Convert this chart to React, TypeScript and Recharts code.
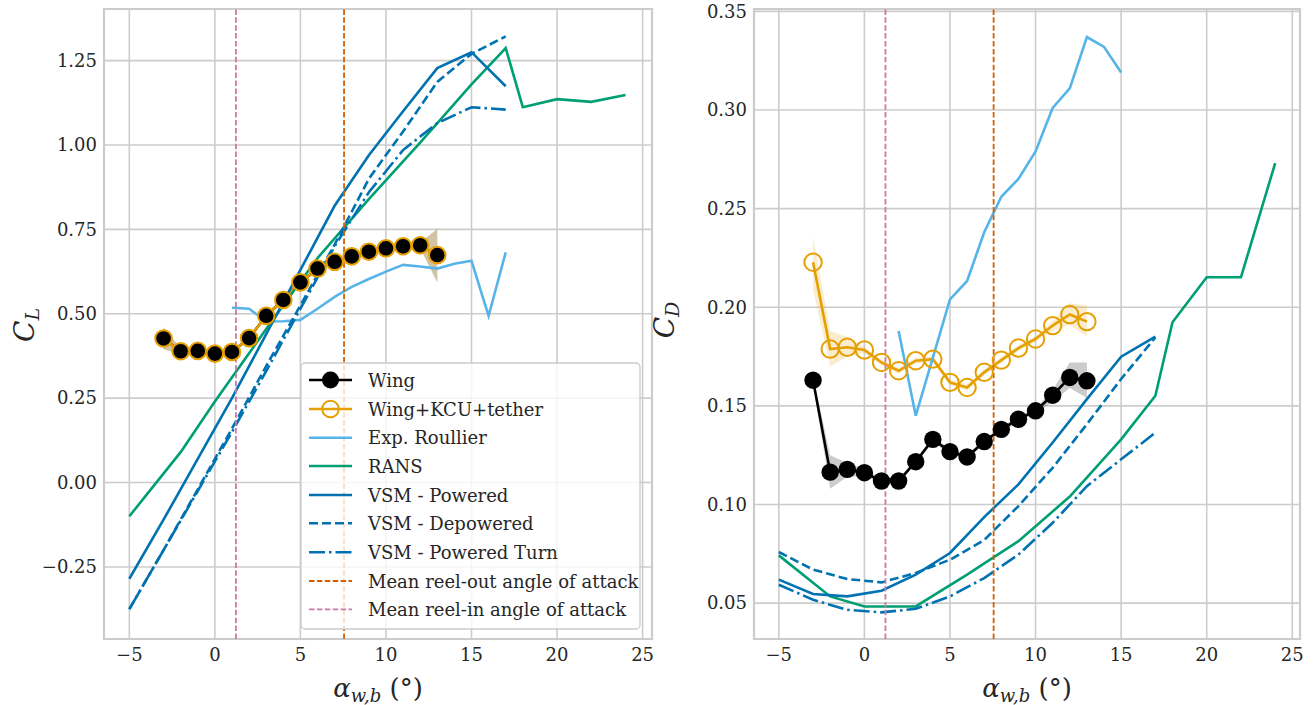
import React from "react";
import {
  ComposedChart,
  Line,
  Area,
  XAxis,
  YAxis,
  CartesianGrid,
  ReferenceLine,
  ReferenceArea,
} from "recharts";

// flight-test points (wing and wing+KCU+tether)
const alphaExp = [-3, -2, -1, 0, 1, 2, 3, 4, 5, 6, 7, 8, 9, 10, 11, 12, 13];
const clWing = [0.427, 0.389, 0.39, 0.382, 0.387, 0.428, 0.494, 0.541, 0.593, 0.634, 0.654, 0.67, 0.684, 0.694, 0.7, 0.703, 0.674];
const clWingKcu = [0.427, 0.389, 0.39, 0.382, 0.387, 0.428, 0.494, 0.541, 0.593, 0.634, 0.654, 0.67, 0.684, 0.694, 0.7, 0.703, 0.674];
const clBandLo = [0.395, 0.381, 0.385, 0.377, 0.382, 0.423, 0.488, 0.535, 0.587, 0.628, 0.648, 0.664, 0.678, 0.688, 0.694, 0.695, 0.593];
const clBandHi = [0.46, 0.397, 0.395, 0.387, 0.392, 0.433, 0.5, 0.547, 0.599, 0.64, 0.66, 0.676, 0.69, 0.7, 0.706, 0.711, 0.751];

const cdWing = [0.163, 0.1164, 0.1178, 0.1161, 0.1119, 0.1119, 0.1217, 0.133, 0.1268, 0.1241, 0.1319, 0.1381, 0.1432, 0.1475, 0.1554, 0.1644, 0.1627];
const cdWingLo = [0.161, 0.108, 0.114, 0.1145, 0.1105, 0.1105, 0.1205, 0.1318, 0.1255, 0.1228, 0.1306, 0.1368, 0.1419, 0.1462, 0.152, 0.159, 0.154];
const cdWingHi = [0.165, 0.125, 0.121, 0.1177, 0.1133, 0.1133, 0.1229, 0.1342, 0.1281, 0.1254, 0.1332, 0.1394, 0.1445, 0.1488, 0.158, 0.172, 0.172];
const cdWingKcu = [0.2228, 0.1788, 0.1797, 0.1783, 0.172, 0.1678, 0.1729, 0.1737, 0.1619, 0.1593, 0.167, 0.1732, 0.1793, 0.1839, 0.1907, 0.1963, 0.1927];
const cdKcuLo = [0.209, 0.17, 0.175, 0.1768, 0.1705, 0.1663, 0.1714, 0.1722, 0.1604, 0.1578, 0.1655, 0.1717, 0.1778, 0.1824, 0.188, 0.191, 0.185];
const cdKcuHi = [0.236, 0.188, 0.185, 0.1798, 0.1735, 0.1693, 0.1744, 0.1752, 0.1634, 0.1608, 0.1685, 0.1747, 0.1808, 0.1854, 0.193, 0.202, 0.201];

// wind tunnel (Roullier)
const alphaRoullierCl = [1, 2, 3, 4, 5, 6, 7, 8, 9, 10, 11, 12, 13, 14, 15, 16, 17];
const clRoullier = [0.518, 0.515, 0.477, 0.478, 0.482, 0.515, 0.55, 0.58, 0.603, 0.625, 0.645, 0.64, 0.634, 0.648, 0.657, 0.494, 0.682];
const alphaRoullierCd = [2, 3, 4, 5, 6, 7, 8, 9, 10, 11, 12, 13, 14, 15];
const cdRoullier = [0.188, 0.145, 0.1745, 0.204, 0.2133, 0.238, 0.256, 0.265, 0.279, 0.301, 0.311, 0.337, 0.332, 0.319];

// RANS
const alphaRans = [-5, -2, 0, 3, 6, 9, 12, 15, 17, 18, 20, 22, 24];
const clRans = [-0.1, 0.09, 0.24, 0.455, 0.665, 0.84, 1.007, 1.18, 1.287, 1.112, 1.136, 1.128, 1.148];
const cdRans = [0.0742, 0.0534, 0.0483, 0.0483, 0.0644, 0.0814, 0.104, 0.133, 0.1551, 0.1924, 0.2152, 0.2152, 0.273];

// VSM
const alphaVsm = [-5, -3, -1, 1, 3, 5, 7, 9, 11, 13, 15, 17];
const clVsmPowered = [-0.285, -0.11, 0.07, 0.25, 0.44, 0.63, 0.82, 0.97, 1.1, 1.228, 1.275, 1.174];
const clVsmDepowered = [-0.375, -0.2, -0.02, 0.16, 0.345, 0.525, 0.705, 0.9, 1.04, 1.187, 1.27, 1.322];
const clVsmTurn = [-0.375, -0.2, -0.025, 0.15, 0.33, 0.515, 0.7, 0.86, 0.985, 1.065, 1.112, 1.105];
const cdVsmPowered = [0.0619, 0.0546, 0.0534, 0.0563, 0.0644, 0.0754, 0.0936, 0.1102, 0.1314, 0.1534, 0.1749, 0.1851];
const cdVsmDepowered = [0.0759, 0.067, 0.0622, 0.0605, 0.0653, 0.072, 0.082, 0.0992, 0.1186, 0.1407, 0.1636, 0.1847];
const cdVsmTurn = [0.0593, 0.0517, 0.0466, 0.0453, 0.0471, 0.0534, 0.0627, 0.0746, 0.0907, 0.1093, 0.1229, 0.1364];

const meanReelOut = 7.55;
const meanReelIn = 1.23;

const xTicks = [-5, 0, 5, 10, 15, 20, 25];
const clTicks = [-0.25, 0, 0.25, 0.5, 0.75, 1, 1.25];
const cdTicks = [0.05, 0.1, 0.15, 0.2, 0.25, 0.3, 0.35];

const legendLabels = [
  "Wing",
  "Wing+KCU+tether",
  "Exp. Roullier",
  "RANS",
  "VSM - Powered",
  "VSM - Depowered",
  "VSM - Powered Turn",
  "Mean reel-out angle of attack",
  "Mean reel-in angle of attack",
];

const C = {
  wing: "#000000",
  kcu: "#E69F00",
  roullier: "#56B4E9",
  rans: "#009E73",
  vsm: "#0072B2",
  reelOut: "#D55E00",
  reelIn: "#CC79A7",
  grid: "#cccccc",
  text: "#262626",
};

const FONT = "DejaVu Serif";
const LW = 2.6;
const DASH = "9 4";
const DASHDOT = "16 4 2.5 4";
const VDASH = "5.5 2.4";

const pts = (xs: number[], ys: number[]) => xs.map((a, i) => ({ a, v: ys[i] }));
const band = (xs: number[], lo: number[], hi: number[]) =>
  xs.map((a, i) => ({ a, r: [lo[i], hi[i]] }));

const fmt = (v: number, d: number) => (v < 0 ? "\u2212" + Math.abs(v).toFixed(d) : v.toFixed(d));

function Tick(props: any) {
  const { x, y, payload, textAnchor, decimals, vertical } = props;
  return (
    <text
      x={x}
      y={y}
      dy={vertical ? "0.35em" : "0.71em"}
      textAnchor={textAnchor}
      fill={C.text}
      style={{ fontFamily: FONT, fontSize: 18 }}
    >
      {fmt(payload.value, decimals)}
    </text>
  );
}

interface PanelProps {
  left: number;
  width: number;
  yWidth: number;
  marginRight: number;
  xDomain: [number, number];
  yDomain: [number, number];
  yTicks: number[];
  isLift: boolean;
}

function Panel({ left, width, yWidth, marginRight, xDomain, yDomain, yTicks, isLift }: PanelProps) {
  const wing = isLift ? pts(alphaExp, clWing) : pts(alphaExp, cdWing);
  const kcu = isLift ? pts(alphaExp, clWingKcu) : pts(alphaExp, cdWingKcu);
  const wingBand = isLift ? band(alphaExp, clBandLo, clBandHi) : band(alphaExp, cdWingLo, cdWingHi);
  const kcuBand = isLift ? band(alphaExp, clBandLo, clBandHi) : band(alphaExp, cdKcuLo, cdKcuHi);
  const roullier = isLift ? pts(alphaRoullierCl, clRoullier) : pts(alphaRoullierCd, cdRoullier);
  const rans = isLift ? pts(alphaRans, clRans) : pts(alphaRans, cdRans);
  const powered = pts(alphaVsm, isLift ? clVsmPowered : cdVsmPowered);
  const depowered = pts(alphaVsm, isLift ? clVsmDepowered : cdVsmDepowered);
  const turn = pts(alphaVsm, isLift ? clVsmTurn : cdVsmTurn);
  const r = isLift ? 8.3 : 8.7;

  return (
    <div style={{ position: "absolute", left, top: 0 }}>
      <ComposedChart
        width={width}
        height={705}
        margin={{ top: 9, right: marginRight, bottom: 0, left: 0 }}
      >
        <CartesianGrid stroke={C.grid} strokeWidth={1.6} />
        <XAxis
          type="number"
          dataKey="a"
          domain={xDomain}
          ticks={xTicks}
          allowDataOverflow
          height={66}
          tickSize={0}
          tickMargin={9}
          axisLine={false}
          tick={<Tick decimals={0} />}
        />
        <YAxis
          type="number"
          domain={yDomain}
          ticks={yTicks}
          allowDataOverflow
          width={yWidth}
          tickSize={0}
          tickMargin={7}
          axisLine={false}
          tick={<Tick decimals={2} vertical />}
        />
        <ReferenceArea
          x1={xDomain[0]}
          x2={xDomain[1]}
          y1={yDomain[0]}
          y2={yDomain[1]}
          fill="none"
          stroke={C.grid}
          strokeWidth={2.2}
          fillOpacity={0}
        />
        <Area data={wingBand} dataKey="r" type="linear" stroke="none" fill={C.wing} fillOpacity={0.2} isAnimationActive={false} />
        <Area data={kcuBand} dataKey="r" type="linear" stroke="none" fill={C.kcu} fillOpacity={0.2} isAnimationActive={false} />
        <Line
          data={wing}
          dataKey="v"
          type="linear"
          stroke={C.wing}
          strokeWidth={LW}
          dot={{ r, fill: C.wing, stroke: C.wing, strokeWidth: 0 }}
          isAnimationActive={false}
        />
        <Line
          data={kcu}
          dataKey="v"
          type="linear"
          stroke={C.kcu}
          strokeWidth={LW}
          dot={{ r, fill: "none", stroke: C.kcu, strokeWidth: 2 }}
          isAnimationActive={false}
        />
        <Line data={roullier} dataKey="v" type="linear" stroke={C.roullier} strokeWidth={LW} dot={false} isAnimationActive={false} />
        <Line data={rans} dataKey="v" type="linear" stroke={C.rans} strokeWidth={LW} dot={false} isAnimationActive={false} />
        <Line data={powered} dataKey="v" type="linear" stroke={C.vsm} strokeWidth={LW} dot={false} isAnimationActive={false} />
        <Line data={depowered} dataKey="v" type="linear" stroke={C.vsm} strokeWidth={LW} strokeDasharray={DASH} dot={false} isAnimationActive={false} />
        <Line data={turn} dataKey="v" type="linear" stroke={C.vsm} strokeWidth={LW} strokeDasharray={DASHDOT} dot={false} isAnimationActive={false} />
        <ReferenceLine x={meanReelOut} stroke={C.reelOut} strokeWidth={1.8} strokeDasharray={VDASH} />
        <ReferenceLine x={meanReelIn} stroke={C.reelIn} strokeWidth={1.8} strokeDasharray={VDASH} />
      </ComposedChart>
    </div>
  );
}

function LegendSample({ i, y }: { i: number; y: number }) {
  const x1 = 309;
  const x2 = 352;
  const cx = (x1 + x2) / 2;
  const styles = [
    { stroke: C.wing, dash: undefined, w: LW },
    { stroke: C.kcu, dash: undefined, w: LW },
    { stroke: C.roullier, dash: undefined, w: LW },
    { stroke: C.rans, dash: undefined, w: LW },
    { stroke: C.vsm, dash: undefined, w: LW },
    { stroke: C.vsm, dash: DASH, w: LW },
    { stroke: C.vsm, dash: DASHDOT, w: LW },
    { stroke: C.reelOut, dash: VDASH, w: 1.8 },
    { stroke: C.reelIn, dash: VDASH, w: 1.8 },
  ];
  const s = styles[i];
  return (
    <g>
      <line x1={x1} x2={x2} y1={y} y2={y} stroke={s.stroke} strokeWidth={s.w} strokeDasharray={s.dash} />
      {i === 0 && <circle cx={cx} cy={y} r={8.5} fill={C.wing} />}
      {i === 1 && <circle cx={cx} cy={y} r={8.3} fill="none" stroke={C.kcu} strokeWidth={2} />}
    </g>
  );
}

function Overlay() {
  const rows = [380, 409, 437.7, 466, 495, 523.3, 552.3, 581, 609.3];
  return (
    <svg
      width={1314}
      height={705}
      style={{ position: "absolute", left: 0, top: 0, pointerEvents: "none", fontFamily: FONT }}
    >
      {/* legend */}
      <rect x={301} y={363} width={339} height={266} rx={4} fill="#ffffff" fillOpacity={0.8} stroke={C.grid} strokeWidth={1.3} />
      {legendLabels.map((label, i) => (
        <g key={label}>
          <LegendSample i={i} y={rows[i]} />
          <text x={368} y={rows[i] + 6.5} fill={C.text} style={{ fontFamily: FONT, fontSize: 18 }}>
            {label}
          </text>
        </g>
      ))}

      {/* x labels */}
      {[378, 1027].map((cx) => (
        <text key={cx} x={cx} y={697} textAnchor="middle" fill={C.text} style={{ fontFamily: FONT }}>
          <tspan fontSize={26} fontStyle="italic">α</tspan>
          <tspan fontSize={18} fontStyle="italic" dy={5}>w,b</tspan>
          <tspan fontSize={26} dy={-5}>{" (°)"}</tspan>
        </text>
      ))}

      {/* y labels */}
      <text x={34} y={325} transform="rotate(-90 34 325)" textAnchor="middle" fill={C.text} style={{ fontFamily: FONT }}>
        <tspan fontSize={28} fontStyle="italic">C</tspan>
        <tspan fontSize={19} fontStyle="italic" dy={5}>L</tspan>
      </text>
      <text x={674} y={320} transform="rotate(-90 674 320)" textAnchor="middle" fill={C.text} style={{ fontFamily: FONT }}>
        <tspan fontSize={28} fontStyle="italic">C</tspan>
        <tspan fontSize={19} fontStyle="italic" dy={5}>D</tspan>
      </text>
    </svg>
  );
}

export default function App() {
  return (
    <div style={{ position: "absolute", left: 0, top: 0, width: 1314, height: 705, background: "#fff" }}>
      <Panel
        left={0}
        width={660}
        yWidth={104}
        marginRight={8}
        xDomain={[-6.48, 25.55]}
        yDomain={[-0.4635, 1.403]}
        yTicks={clTicks}
        isLift
      />
      <Panel
        left={660}
        width={654}
        yWidth={94}
        marginRight={14}
        xDomain={[-6.45, 25.45]}
        yDomain={[0.0318, 0.3512]}
        yTicks={cdTicks}
        isLift={false}
      />
      <Overlay />
    </div>
  );
}
